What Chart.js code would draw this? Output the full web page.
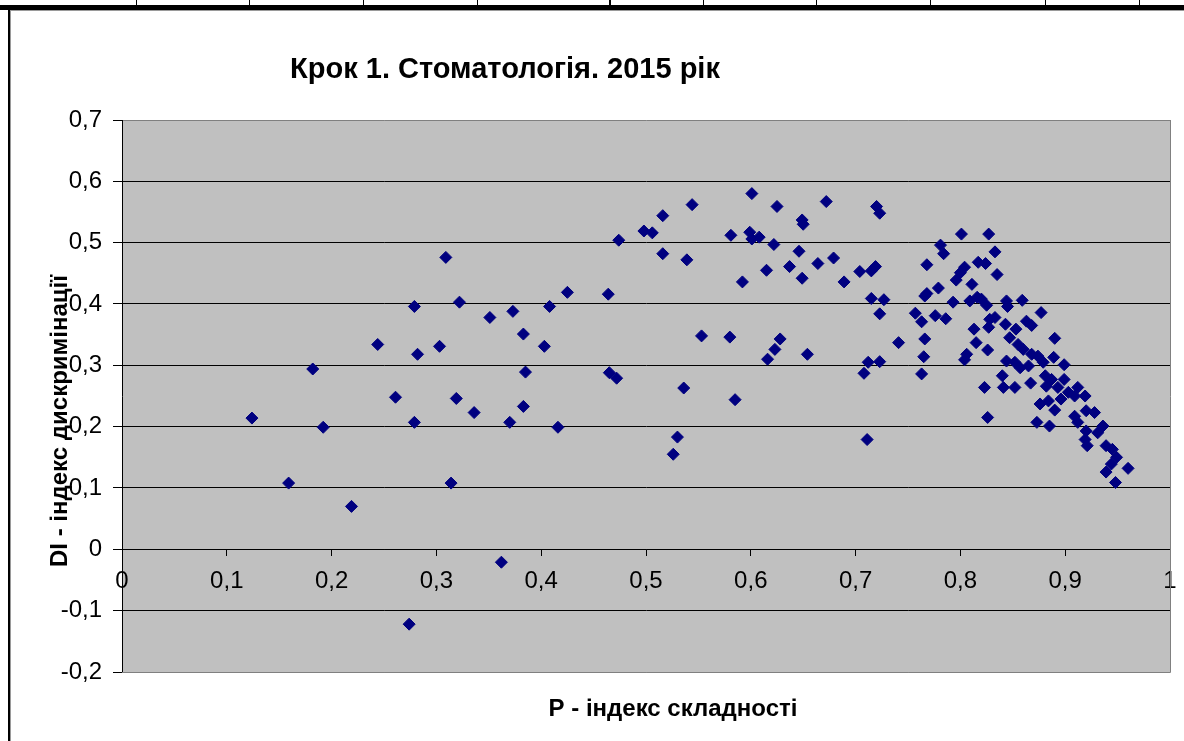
<!DOCTYPE html>
<html>
<head>
<meta charset="utf-8">
<script src="https://cdn.jsdelivr.net/npm/chart.js@4"></script>
<style>
  html, body { margin: 0; padding: 0; background: #fff; }
  #wrap { position: relative; width: 1184px; height: 741px; overflow: hidden; }
  #chart { position: absolute; left: 0; top: 0; }
  .cell { position: absolute; top: 0; height: 5px; width: 1px; background: #000; }
  #topline { position: absolute; left: 0; top: 5px; width: 1184px; height: 5px; background: #000; }
  #frameL { position: absolute; left: 8px; top: 9px; width: 2px; height: 732px; background: #000; }
  #frameIn { position: absolute; left: 10px; top: 10px; width: 1174px; height: 731px; border-left: 1px solid #9a9a9a; border-top: 1px solid #9a9a9a; }
</style>
</head>
<body>
<div id="wrap">
  <div id="frameIn"></div>
  <canvas id="chart" width="1184" height="741"></canvas>
  <div id="topline"></div>
  <div id="frameL"></div>
</div>
<script>
// Крок 1. Стоматологія. 2015 — P (складність) vs DI (дискримінація)
const pIndex = [
  0.124, 0.159, 0.182, 0.192, 0.219, 0.244, 0.261, 0.279, 0.282, 0.279,
  0.274, 0.303, 0.309, 0.314, 0.319, 0.322, 0.336, 0.351, 0.362, 0.373,
  0.370, 0.383, 0.385, 0.383, 0.403, 0.408, 0.416, 0.425, 0.464, 0.474,
  0.498, 0.506, 0.516, 0.544, 0.516, 0.539, 0.465, 0.472, 0.553, 0.536,
  0.530, 0.526, 0.601, 0.625, 0.672, 0.720, 0.723, 0.649, 0.650, 0.581,
  0.599, 0.601, 0.608, 0.622, 0.646, 0.615, 0.637, 0.664, 0.679, 0.649,
  0.592, 0.689, 0.704, 0.715, 0.719, 0.715, 0.727, 0.723, 0.757, 0.763,
  0.768, 0.766, 0.580, 0.628, 0.623, 0.616, 0.654, 0.741, 0.712, 0.708,
  0.723, 0.765, 0.763, 0.766, 0.585, 0.711,
  0.801, 0.827, 0.781, 0.784, 0.833, 0.817, 0.824, 0.804, 0.800, 0.796,
  0.835, 0.811, 0.779, 0.768, 0.793, 0.809, 0.816, 0.820, 0.825, 0.844,
  0.845, 0.859, 0.877, 0.776, 0.786, 0.828, 0.833, 0.827, 0.843, 0.863,
  0.868, 0.813, 0.815, 0.853, 0.890, 0.847, 0.855, 0.860, 0.826, 0.806,
  0.804, 0.868, 0.874, 0.879, 0.844, 0.852, 0.857, 0.865, 0.889, 0.899,
  0.823, 0.840, 0.841, 0.852, 0.867, 0.881, 0.887, 0.882, 0.893, 0.899,
  0.896, 0.903, 0.912, 0.919, 0.909, 0.876, 0.884, 0.890, 0.826, 0.873,
  0.885, 0.909, 0.912, 0.920, 0.928, 0.936, 0.931, 0.920, 0.919, 0.921,
  0.939, 0.945, 0.949, 0.944, 0.939, 0.960, 0.948
];
const diIndex = [
  0.214, 0.108, 0.294, 0.199, 0.070, 0.334, 0.248, 0.396, 0.318, 0.207,
  -0.122, 0.331, 0.476, 0.108, 0.246, 0.403, 0.223, 0.378, -0.021, 0.388,
  0.207, 0.351, 0.289, 0.233, 0.331, 0.396, 0.199, 0.419, 0.416, 0.504,
  0.519, 0.516, 0.544, 0.562, 0.482, 0.472, 0.288, 0.279, 0.348, 0.263,
  0.183, 0.155, 0.580, 0.559, 0.567, 0.559, 0.548, 0.537, 0.530, 0.512,
  0.517, 0.506, 0.509, 0.497, 0.486, 0.455, 0.461, 0.466, 0.475, 0.442,
  0.436, 0.436, 0.453, 0.454, 0.461, 0.409, 0.407, 0.384, 0.385, 0.371,
  0.464, 0.413, 0.346, 0.343, 0.326, 0.310, 0.318, 0.337, 0.305, 0.287,
  0.306, 0.314, 0.286, 0.343, 0.244, 0.179,
  0.514, 0.514, 0.496, 0.482, 0.485, 0.468, 0.466, 0.460, 0.451, 0.439,
  0.448, 0.432, 0.426, 0.417, 0.403, 0.405, 0.411, 0.408, 0.398, 0.405,
  0.396, 0.406, 0.386, 0.381, 0.376, 0.375, 0.378, 0.362, 0.367, 0.372,
  0.365, 0.359, 0.337, 0.359, 0.344, 0.345, 0.334, 0.326, 0.325, 0.318,
  0.309, 0.318, 0.315, 0.305, 0.307, 0.305, 0.296, 0.299, 0.313, 0.301,
  0.264, 0.283, 0.264, 0.264, 0.271, 0.283, 0.277, 0.266, 0.264, 0.277,
  0.245, 0.256, 0.264, 0.250, 0.250, 0.237, 0.242, 0.227, 0.215, 0.207,
  0.201, 0.217, 0.207, 0.226, 0.223, 0.201, 0.190, 0.193, 0.179, 0.169,
  0.169, 0.163, 0.150, 0.139, 0.126, 0.132, 0.109
];
const xTicks = [0, 0.1, 0.2, 0.3, 0.4, 0.5, 0.6, 0.7, 0.8, 0.9, 1];
const yTicks = [-0.2, -0.1, 0, 0.1, 0.2, 0.3, 0.4, 0.5, 0.6, 0.7];
const topCells = [136, 249, 363, 477, 609, 703, 816, 930, 1045, 1139];

const titleText = 'Крок 1. Стоматологія. 2015 рік';
const xTitle = 'P - індекс складності';
const yTitle = 'DI - індекс дискримінації';

// table cell borders above the chart
topCells.forEach(x => {
  const d = document.createElement('div');
  d.className = 'cell';
  d.style.left = x + 'px';
  if (x === 609) d.style.width = '2px';
  document.getElementById('wrap').appendChild(d);
});

const fmt = v => {
  const r = Math.round(v * 10) / 10;
  return r === 0 ? '0' : (Number.isInteger(r) ? String(r) : r.toFixed(1).replace('.', ','));
};

// сірий фон області побудови + підписи як в Excel
const excelLook = {
  id: 'excelLook',
  beforeDraw(chart) {
    const { ctx, chartArea: a } = chart;
    ctx.save();
    ctx.fillStyle = '#c0c0c0';
    ctx.fillRect(a.left, a.top, a.right - a.left, a.bottom - a.top);
    ctx.restore();
  },
  afterDatasetsDraw(chart) {
    const { ctx, chartArea: a } = chart;
    ctx.save();
    ctx.strokeStyle = '#808080';
    ctx.lineWidth = 1;
    ctx.beginPath();
    ctx.moveTo(a.left, a.bottom + 0.5);
    ctx.lineTo(a.right + 0.5, a.bottom + 0.5);
    ctx.lineTo(a.right + 0.5, a.top);
    ctx.stroke();
    ctx.restore();
  },
  afterDraw(chart) {
    const { ctx } = chart;
    ctx.save();
    ctx.fillStyle = '#000';
    ctx.textAlign = 'center';
    ctx.textBaseline = 'middle';
    ctx.font = 'bold 29px "Liberation Sans", Arial, sans-serif';
    ctx.fillText(titleText, 505, 70);
    ctx.font = 'bold 24px "Liberation Sans", Arial, sans-serif';
    ctx.fillText(xTitle, 673, 709);
    ctx.translate(60, 421);
    ctx.rotate(-Math.PI / 2);
    ctx.fillText(yTitle, 0, 0);
    ctx.restore();
  }
};

Chart.defaults.font.family = '"Liberation Sans", Arial, sans-serif';
Chart.defaults.color = '#000';

new Chart(document.getElementById('chart'), {
  type: 'scatter',
  data: {
    datasets: [{
      data: pIndex.map((p, i) => ({ x: p, y: diIndex[i] })),
      pointStyle: 'rectRot',
      pointRadius: 6,
      pointBorderWidth: 1,
      backgroundColor: '#000080',
      borderColor: '#000080'
    }]
  },
  options: {
    responsive: false,
    animation: false,
    layout: { padding: { left: 0, top: 120, right: 14, bottom: 69 } },
    plugins: { legend: { display: false }, tooltip: { enabled: false } },
    scales: {
      x: {
        type: 'linear',
        position: { y: 0 },
        min: 0, max: 1,
        afterBuildTicks: s => { s.ticks = xTicks.map(v => ({ value: v })); },
        afterFit: s => { s.paddingLeft = 0; s.paddingRight = 0; },
        ticks: { callback: v => fmt(v), font: { size: 24 }, padding: 12, maxRotation: 0, autoSkip: false },
        grid: { drawOnChartArea: false, drawTicks: true, tickLength: 6, tickColor: '#000' },
        border: { color: '#000', width: 1 }
      },
      y: {
        type: 'linear',
        min: -0.2, max: 0.7,
        afterFit: s => { s.width = 122; s.paddingTop = 0; s.paddingBottom = 0; },
        afterBuildTicks: s => { s.ticks = yTicks.map(v => ({ value: v })); },
        ticks: { callback: v => fmt(v), font: { size: 24 }, padding: 11, autoSkip: false },
        grid: {
          tickLength: 9,
          tickColor: '#000',
          color: c => (Math.abs(c.tick.value - 0.7) < 1e-6 || Math.abs(c.tick.value + 0.2) < 1e-6) ? '#808080' : '#000',
          lineWidth: 1
        },
        border: { color: '#000', width: 1 }
      }
    }
  },
  plugins: [excelLook]
});
</script>
</body>
</html>
